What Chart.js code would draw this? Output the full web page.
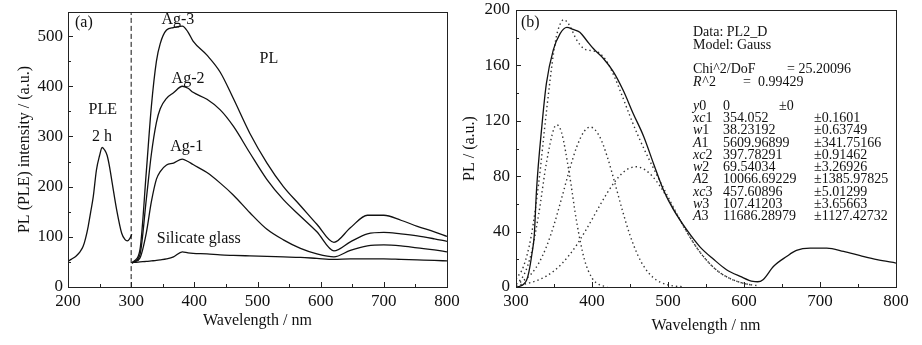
<!DOCTYPE html>
<html>
<head>
<meta charset="utf-8">
<title>PL / PLE spectra</title>
<script src="https://cdn.jsdelivr.net/npm/chart.js@4.4.1/dist/chart.umd.min.js"></script>
<style>
body{margin:0;background:#fff;}
.panel{position:absolute;top:0;height:345px;}
#panelA{left:0;width:460px;}
#panelB{left:460px;width:462px;}
</style>
</head>
<body>
<div class="panel" id="panelA"><canvas id="chartA"></canvas></div>
<div class="panel" id="panelB"><canvas id="chartB"></canvas></div>
<script>
const FONT = "'Liberation Serif', 'Times New Roman', serif";
const INK = "#111";

/* (a) PLE of the 2 h sample */
const pleWave = [200, 205, 213, 219, 224, 228, 232, 236, 240, 245, 250, 254, 258, 262, 266, 270, 277, 285, 290, 294, 298, 301];
const pleVals = [51, 55, 62, 70, 81, 98, 121, 150, 180, 233, 262, 278, 273, 262, 238, 207, 154, 107, 95, 92, 97, 105];

/* (a) PL spectra */
const plWave = [301, 305, 314, 324, 332, 340, 346, 356, 367, 381, 390, 398, 420, 441, 462, 488, 515, 541, 568, 594, 621, 647, 674, 700, 727, 753, 780, 800];
const ag3 = [48, 52, 75, 230, 360, 450, 485, 512, 517, 520, 508, 490, 462, 428, 375, 306, 247, 200, 162, 125, 89, 118, 143, 143, 133, 121, 110, 101];
const ag2 = [48, 51, 65, 175, 265, 328, 355, 376, 387, 400, 396, 388, 374, 353, 320, 267, 214, 174, 141, 110, 72, 90, 106, 109, 106, 102, 96, 91];
const ag1 = [48, 50, 58, 108, 170, 215, 230, 243, 247, 255, 250, 244, 228, 207, 183, 148, 115, 94, 77, 66, 60, 73, 82, 84, 82, 78, 74, 70];
const silicate = [48, 49, 50, 51, 52, 53, 54, 56, 60, 70, 68, 67, 66, 64, 63, 62, 61, 60, 59, 57, 55, 56, 56, 56, 55, 54, 53, 52];

/* dashed divider between PLE and PL */
const cutWave = [300, 300];
const cutVals = [0, 548];

/* (b) measured PL2_D */
const fitWave = [300, 305, 310, 314, 317, 321, 324, 327, 334, 340, 349, 358, 367, 375, 384, 393, 402, 415, 428, 441, 454, 468, 481, 494, 507, 525, 542, 560, 577, 595, 612, 618, 625, 639, 656, 669, 687, 709, 731, 753, 775, 800];
const fitPL = [0, 0.5, 2, 5, 11, 24, 37, 70, 116, 147, 171, 183, 187.5, 186, 184, 178, 172, 165, 155.5, 142, 125.5, 108.7, 89, 70, 56, 41, 29, 20, 12.5, 7.7, 4, 3.8, 5.3, 15, 22, 26.4, 28, 28, 25.7, 22.6, 19.7, 17.3];

/* (b) gauss components and their sum */
const g1Wave = [300, 310, 320, 330, 340, 350, 354, 360, 370, 380, 390, 400, 410, 420];
const g1Vals = [2.2, 8.3, 24, 53, 89.5, 114.5, 117, 111.4, 82.4, 46.4, 19.9, 6.5, 1.6, 0.3];
const g2Wave = [300, 310, 320, 330, 340, 350, 360, 370, 380, 390, 398, 410, 420, 430, 440, 450, 460, 470, 480, 490, 500, 510, 520];
const g2Vals = [2.2, 4.8, 9.4, 17.3, 29, 44.9, 64, 83.9, 101.3, 112.6, 115.5, 108.6, 94.2, 75.2, 55.3, 37.4, 23.3, 13.4, 7.1, 3.4, 1.5, 0.6, 0.2];
const g3Wave = [300, 310, 320, 330, 340, 350, 360, 370, 380, 390, 400, 410, 420, 430, 440, 450, 458, 470, 480, 490, 500, 510, 520, 530, 540, 550, 560, 570, 580, 590, 600, 610, 620];
const g3Vals = [1.2, 2.0, 3.3, 5.2, 7.9, 11.7, 16.6, 23.0, 30.5, 39.3, 48.8, 58.6, 67.9, 76.0, 82.3, 85.9, 86.8, 84.5, 79.6, 72.4, 63.6, 53.9, 44.2, 35.0, 26.7, 19.8, 14.1, 9.7, 6.5, 4.2, 2.6, 1.5, 0.9];
const sumWave = [300, 310, 320, 330, 340, 350, 355, 363, 370, 380, 390, 400, 410, 420, 430, 440, 450, 460, 470, 480, 490, 500, 510, 520, 530, 540, 550, 560, 570, 580, 590, 600, 610];
const sumVals = [5.6, 15.1, 36.7, 75.5, 126.4, 171.1, 185, 193, 189.3, 178.2, 171.8, 170.6, 168.8, 162.4, 151.2, 137.6, 123.3, 110, 97.9, 86.7, 75.8, 65.1, 54.5, 44.4, 35, 26.7, 19.8, 14.1, 9.7, 6.5, 4.2, 2.6, 1.5];

/* fit report text */
const fitHead = ['Data: PL2_D', 'Model: Gauss'];
const fitParams = ['y0', 'xc1', 'w1', 'A1', 'xc2', 'w2', 'A2', 'xc3', 'w3', 'A3'];
const fitValues = ['0', '354.052', '38.23192', '5609.96899', '397.78291', '69.54034', '10066.69229', '457.60896', '107.41203', '11686.28979'];
const fitErrors = ['±0', '±0.1601', '±0.63749', '±341.75166', '±0.91462', '±3.26926', '±1385.97825', '±5.01299', '±3.65663', '±1127.42732'];

function pts(xs, ys) {
  return xs.map((x, i) => ({x: x, y: ys[i]}));
}

function solid(xs, ys) {
  return {data: pts(xs, ys), borderColor: INK, borderWidth: 1.3, pointRadius: 0,
    cubicInterpolationMode: 'monotone', fill: false};
}

function dotted(xs, ys) {
  return {data: pts(xs, ys), borderColor: '#333', borderWidth: 1.4, borderDash: [1.4, 3],
    pointRadius: 0, cubicInterpolationMode: 'monotone', fill: false};
}

/* box round the plot and short inward ticks */
const frameTicks = {
  id: 'frameTicks',
  afterDatasetsDraw(chart, args, opts) {
    const {ctx, chartArea: a, scales: {x, y}} = chart;
    ctx.save();
    ctx.strokeStyle = '#222';
    ctx.lineWidth = 1;
    ctx.strokeRect(Math.round(a.left) + 0.5, Math.round(a.top) + 0.5,
      Math.round(a.right - a.left), Math.round(a.bottom - a.top));
    ctx.beginPath();
    for (let v = x.min; v <= x.max + 1e-6; v += opts.xMinor) {
      const px = Math.round(x.getPixelForValue(v)) + 0.5;
      const len = Math.abs(v % opts.xMajor) < 1e-6 ? 5 : 3;
      ctx.moveTo(px, a.bottom);
      ctx.lineTo(px, a.bottom - len);
    }
    for (let v = y.min; v <= y.max + 1e-6; v += opts.yMinor) {
      const py = Math.round(y.getPixelForValue(v)) + 0.5;
      const len = Math.abs(v % opts.yMajor) < 1e-6 ? 5 : 3;
      ctx.moveTo(a.left, py);
      ctx.lineTo(a.left + len, py);
    }
    ctx.stroke();
    ctx.restore();
  }
};

function axes(o) {
  const tickFont = {family: FONT, size: 17};
  const titleFont = {family: FONT, size: 16};
  return {
    x: {
      type: 'linear', min: o.xMin, max: o.xMax,
      grid: {display: false, drawTicks: false}, border: {display: false},
      ticks: {stepSize: 100, padding: 4, color: INK, font: tickFont, autoSkip: false, maxRotation: 0,
        callback: v => (v % 100 === 0 ? v : '')},
      title: {display: true, text: 'Wavelength / nm', color: INK, font: titleFont,
        padding: {top: 0, bottom: o.xTitlePad}},
      afterFit: s => { s.height = 58; s.paddingLeft = 0; s.paddingRight = 0; }
    },
    y: {
      min: 0, max: o.yMax,
      grid: {display: false, drawTicks: false}, border: {display: false},
      ticks: {stepSize: o.yStep, padding: o.yTickPad, color: INK, font: tickFont, autoSkip: false,
        callback: v => (v % o.yStep === 0 ? v : '')},
      title: {display: true, text: o.yTitle, color: INK, font: titleFont,
        padding: {top: o.yTitlePad, bottom: 0}},
      afterFit: s => { s.width = o.yWidth; s.paddingTop = 0; s.paddingBottom = 0; }
    }
  };
}

/* panel (a) */
const notesA = [
  ['(a)', 211, 526, 'left'],
  ['Ag-3', 374, 532, 'center'],
  ['Ag-2', 390, 414, 'center'],
  ['Ag-1', 388, 279, 'center'],
  ['PL', 518, 454, 'center'],
  ['PLE', 255, 353, 'center'],
  ['2 h', 254, 299, 'center'],
  ['Silicate glass', 407, 96, 'center']
];

const labelsA = {
  id: 'labelsA',
  afterDatasetsDraw(chart) {
    const {ctx, scales: {x, y}} = chart;
    ctx.save();
    ctx.fillStyle = INK;
    ctx.font = '16px ' + FONT;
    ctx.textBaseline = 'middle';
    notesA.forEach(n => {
      ctx.textAlign = n[3];
      ctx.fillText(n[0], x.getPixelForValue(n[1]), y.getPixelForValue(n[2]));
    });
    ctx.restore();
  }
};

new Chart(document.getElementById('chartA'), {
  type: 'line',
  data: {
    datasets: [
      solid(pleWave, pleVals),
      solid(plWave, ag3),
      solid(plWave, ag2),
      solid(plWave, ag1),
      solid(plWave, silicate),
      Object.assign(solid(cutWave, cutVals), {borderDash: [5, 3], borderWidth: 1})
    ]
  },
  options: {
    responsive: true, maintainAspectRatio: false, animation: false,
    layout: {padding: {top: 12, right: 13, left: 0, bottom: 0}},
    plugins: {legend: {display: false}, tooltip: {enabled: false},
      frameTicks: {xMajor: 100, xMinor: 50, yMajor: 100, yMinor: 50}},
    scales: axes({xMin: 200, xMax: 800, yMax: 548, yStep: 100, yTickPad: 5,
      yTitle: 'PL (PLE) intensity / (a.u.)', yTitlePad: 15, yWidth: 68, xTitlePad: 15})
  },
  plugins: [frameTicks, labelsA]
});

/* panel (b) */
const labelsB = {
  id: 'labelsB',
  afterDatasetsDraw(chart) {
    const {ctx, chartArea: a} = chart;
    const L = a.left, T = a.top;
    ctx.save();
    ctx.fillStyle = INK;
    ctx.textBaseline = 'middle';
    ctx.textAlign = 'left';
    ctx.font = '16px ' + FONT;
    ctx.fillText('(b)', L + 5, T + 13);

    ctx.font = '14px ' + FONT;
    ctx.fillText(fitHead[0], L + 177, T + 22);
    ctx.fillText(fitHead[1], L + 177, T + 35);
    ctx.fillText('Chi^2/DoF', L + 177, T + 59);
    ctx.fillText('= 25.20096', L + 271, T + 59);
    ctx.font = 'italic 14px ' + FONT;
    ctx.fillText('R', L + 177, T + 72);
    ctx.font = '14px ' + FONT;
    ctx.fillText('^2', L + 177 + ctx.measureText('R').width, T + 72);
    ctx.fillText('=  0.99429', L + 227, T + 72);

    fitParams.forEach((p, i) => {
      const ty = T + 96 + i * 12.3;
      const m = p.match(/^([a-zA-Z]+)(\d*)$/);
      ctx.font = 'italic 14px ' + FONT;
      ctx.fillText(m[1], L + 177, ty);
      const w = ctx.measureText(m[1]).width;
      ctx.font = '14px ' + FONT;
      ctx.fillText(m[2], L + 177 + w, ty);
      ctx.fillText(fitValues[i], L + 207, ty);
      ctx.fillText(fitErrors[i], i === 0 ? L + 263 : L + 298, ty);
    });
    ctx.restore();
  }
};

new Chart(document.getElementById('chartB'), {
  type: 'line',
  data: {
    datasets: [
      solid(fitWave, fitPL),
      dotted(g1Wave, g1Vals),
      dotted(g2Wave, g2Vals),
      dotted(g3Wave, g3Vals),
      dotted(sumWave, sumVals)
    ]
  },
  options: {
    responsive: true, maintainAspectRatio: false, animation: false,
    layout: {padding: {top: 10, right: 26, left: 0, bottom: 0}},
    plugins: {legend: {display: false}, tooltip: {enabled: false},
      frameTicks: {xMajor: 100, xMinor: 50, yMajor: 40, yMinor: 20}},
    scales: axes({xMin: 300, xMax: 800, yMax: 200, yStep: 40, yTickPad: 6,
      yTitle: 'PL / (a.u.)', yTitlePad: 0, yWidth: 56, xTitlePad: 10})
  },
  plugins: [frameTicks, labelsB]
});
</script>
</body>
</html>
